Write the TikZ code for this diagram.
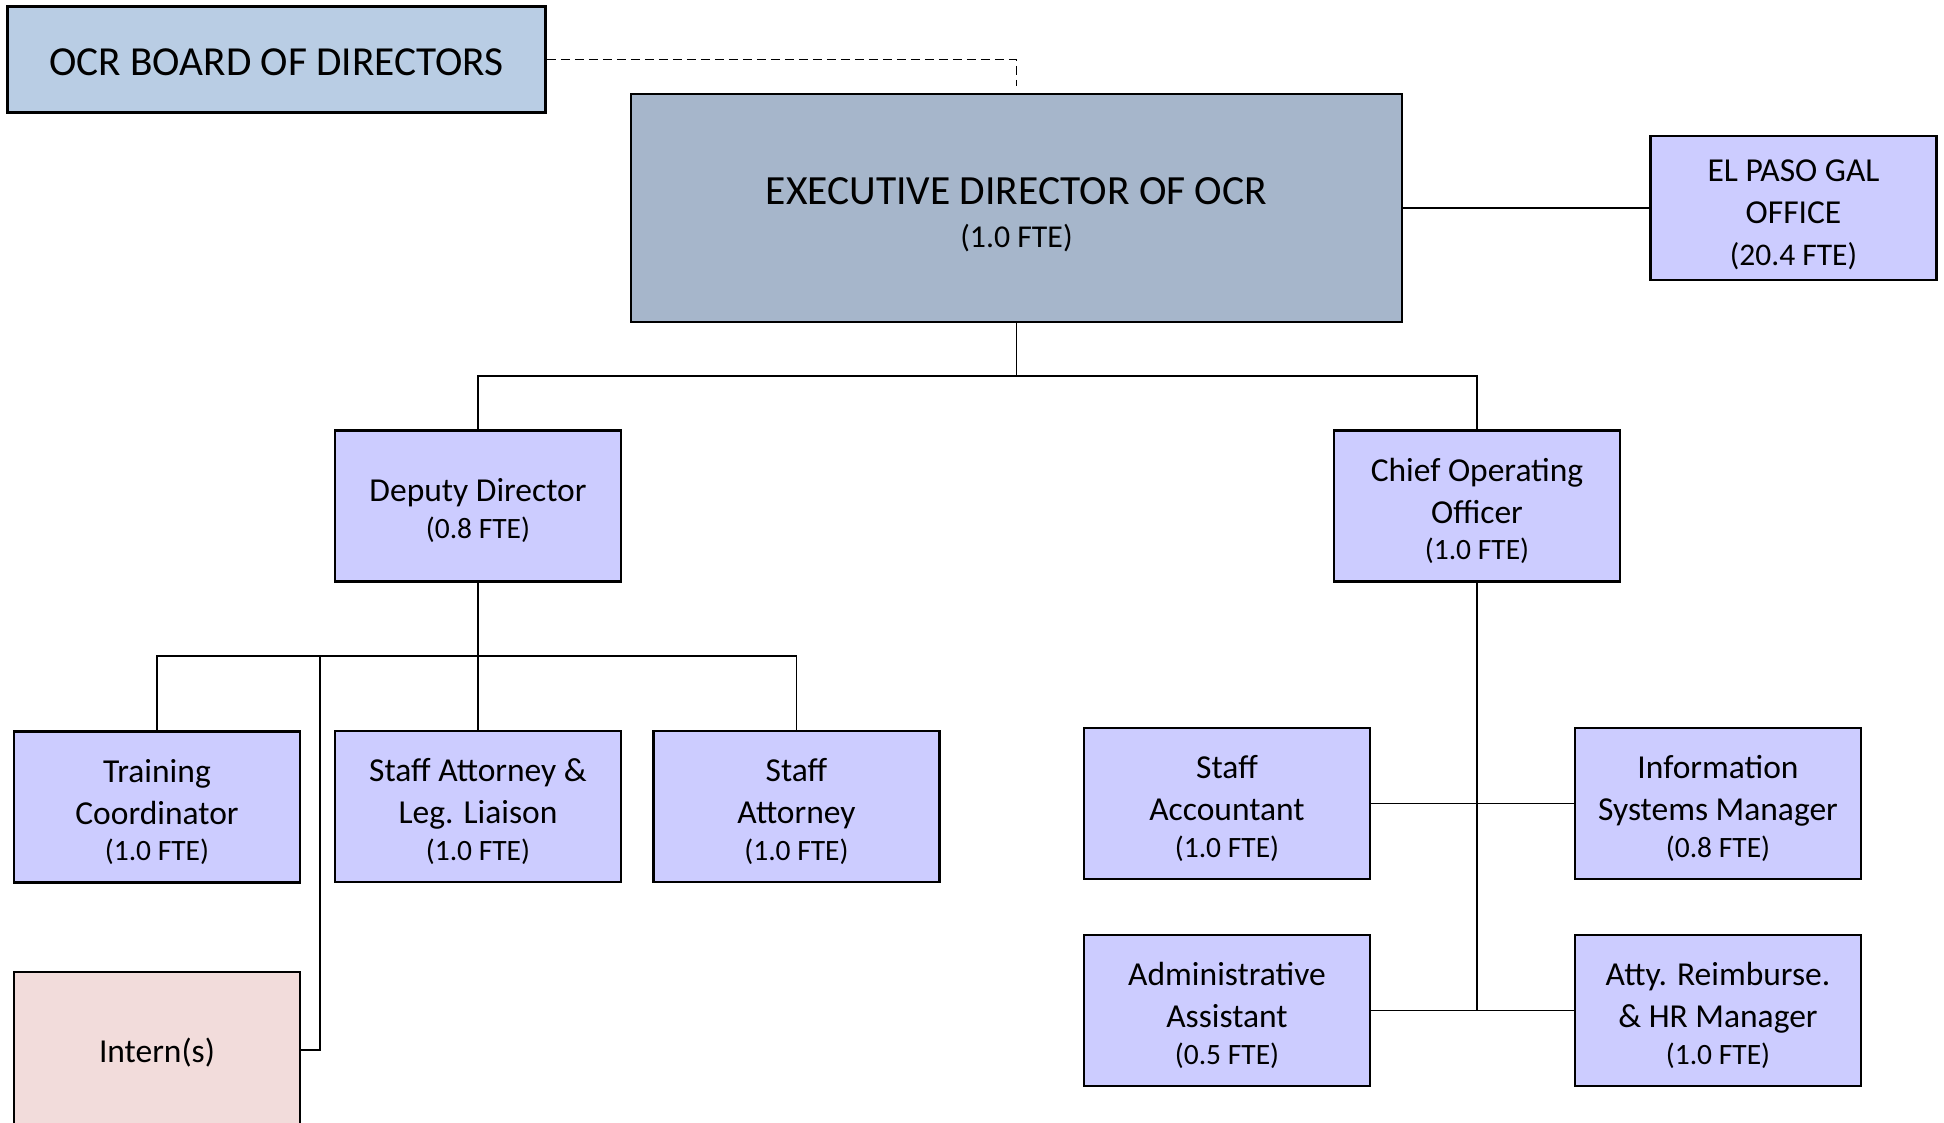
\documentclass[tikz,border=0pt]{standalone}
\usepackage{fontspec}
\setmainfont{Carlito}
\definecolor{boardc}{HTML}{B9CDE4}
\definecolor{execc}{HTML}{A6B6CB}
\definecolor{boxc}{HTML}{CCCCFF}
\definecolor{internc}{HTML}{F2DCDB}
\newcommand\ftetxt[1]{{\fontsize{29.5}{36}\selectfont #1}}
\tikzset{
  orgbox/.style={draw=black, line width=2.5pt, fill=boxc, rectangle, inner sep=0pt,
    minimum width=286pt, minimum height=151pt},
  lbl/.style={align=center, inner sep=0pt, font=\fontsize{33.5}{42}\selectfont},
  conn/.style={draw=black, line width=1.8pt},
}
\begin{document}
\begin{tikzpicture}[x=1pt,y=-1pt]
\useasboundingbox (0,0) rectangle (1944,1122);
\fill[white] (0,0) rectangle (1944,1122);

% boxes
\node[orgbox, fill=boardc, minimum width=538pt, minimum height=106pt] (board) at (276.5,59.5) {};
\node[orgbox, fill=execc, minimum width=771pt, minimum height=228pt] (exec) at (1016.5,208) {};
\node[orgbox, minimum height=144pt] (elp) at (1793.5,208) {};
\node[orgbox] (dep) at (478,506) {};
\node[orgbox] (coo) at (1477,506) {};
\node[orgbox] (train) at (157,807) {};
\node[orgbox] (sleg) at (478,806.5) {};
\node[orgbox] (satt) at (796.5,806.5) {};
\node[orgbox, fill=internc, minimum height=156pt] (intern) at (157,1050) {};
\node[orgbox] (sacc) at (1227,803.5) {};
\node[orgbox] (info) at (1718,803.5) {};
\node[orgbox] (adm) at (1227,1010.5) {};
\node[orgbox] (atty) at (1718,1010.5) {};

% texts
\node[lbl, font=\fontsize{41.3}{48}\selectfont] (board-t) at ([yshift=-2.5pt]board.center) {OCR BOARD OF DIRECTORS};
\node[lbl, font=\fontsize{41.5}{46}\selectfont] (exec-t) at ([yshift=-7pt]exec.center)
  {EXECUTIVE DIRECTOR OF OCR\\[-3pt]{\fontsize{31.8}{40}\selectfont (1.0 FTE)}};
\node[lbl] (elp-t) at ([yshift=-6.5pt]elp.center) {EL PASO GAL\\OFFICE\\{\fontsize{31.5}{42}\selectfont (20.4 FTE)}};
\node[lbl] (dep-t) at ([yshift=-4.5pt]dep.center) {Deputy Director\\[-5.5pt]\ftetxt{(0.8 FTE)}};
\node[lbl] (coo-t) at ([yshift=-5pt]coo.center) {Chief Operating\\Officer\\[-5.5pt]\ftetxt{(1.0 FTE)}};
\node[lbl] (train-t) at ([yshift=-5pt]train.center) {Training\\Coordinator\\[-5.5pt]\ftetxt{(1.0 FTE)}};
\node[lbl] (sleg-t) at ([yshift=-5pt]sleg.center) {Staff Attorney \&\\Leg. Liaison\\[-5.5pt]\ftetxt{(1.0 FTE)}};
\node[lbl] (satt-t) at ([yshift=-5pt]satt.center) {Staff\\Attorney\\[-5.5pt]\ftetxt{(1.0 FTE)}};
\node[lbl] (intern-t) at ([yshift=-2.5pt]intern.center) {Intern(s)};
\node[lbl] (sacc-t) at ([yshift=-5pt]sacc.center) {Staff\\Accountant\\[-5.5pt]\ftetxt{(1.0 FTE)}};
\node[lbl] (info-t) at ([yshift=-5pt]info.center) {Information\\Systems Manager\\[-5.5pt]\ftetxt{(0.8 FTE)}};
\node[lbl] (adm-t) at ([yshift=-5pt]adm.center) {Administrative\\Assistant\\[-5.5pt]\ftetxt{(0.5 FTE)}};
\node[lbl] (atty-t) at ([yshift=-5pt]atty.center) {Atty. Reimburse.\\\& HR Manager\\[-5.5pt]\ftetxt{(1.0 FTE)}};

\coordinate (busA) at (0,375.6);
\coordinate (busB) at (0,656);
\coordinate (ik) at (320,656);

% board dashed
\draw[conn, dash pattern=on 9pt off 5pt, shorten >=7pt] (board.east) -| (exec.north);
% exec to el paso
\draw[conn] (exec.east) -- (elp.west);
% exec to deputy / COO
\draw[conn] (exec.south) -- (exec.south |- busA) -| (dep.north);
\draw[conn] (exec.south |- busA) -| (coo.north);
% deputy subtree
\draw[conn] (dep.south) -- (dep.south |- busB) -| (train.north);
\draw[conn] (dep.south |- busB) -| (satt.north);
\draw[conn] (dep.south |- busB) -- (sleg.north);
\draw[conn] (ik) |- (intern.east);
% COO subtree
\draw[conn] (coo.south) -- (coo.south |- adm.east);
\draw[conn] (sacc.east) -- (info.west);
\draw[conn] (adm.east) -- (atty.west);
\end{tikzpicture}
\end{document}
